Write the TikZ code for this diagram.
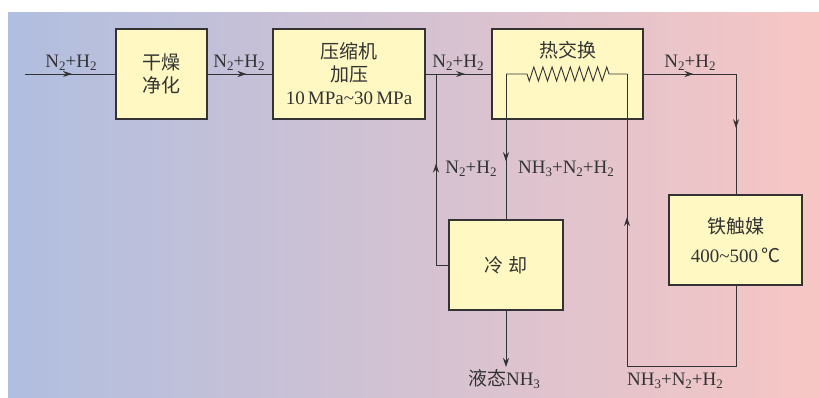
\documentclass[tikz,border=0pt]{standalone}
\usepackage{fontspec}
\setmainfont{Liberation Serif}
\newfontfamily\cjk{Noto Sans CJK SC}
\usetikzlibrary{arrows.meta,decorations.markings}
\definecolor{ink}{HTML}{333333}
\definecolor{boxfill}{HTML}{FFF8C2}
\definecolor{bgl}{HTML}{B0BEE0}
\definecolor{bgr}{HTML}{F7C6C4}
\newcommand\sbs[1]{\raisebox{-3.5pt}{\fontsize{13}{13}\selectfont #1}}
\tikzset{
  txt/.style={text=ink, font=\fontsize{19}{23}\selectfont, inner sep=0pt},
  lbl/.style={txt, anchor=base},
  procbox/.style={draw=ink, line width=1.1pt, fill=boxfill, inner sep=0pt,
    align=center, txt},
  flow/.style={draw=ink, line width=0.9pt},
  arrowat/.style={postaction={decorate}, decoration={markings,
    mark=at position #1 with {\arrow{Stealth[length=9pt,width=6pt]}}}},
  tipend/.style={-{Stealth[length=9pt,width=6pt]}}
}
\begin{document}
\begin{tikzpicture}[x=1pt,y=-1pt]
\useasboundingbox (0,0) rectangle (819,397);
\fill[white] (0,0) rectangle (819,397);
\shade[left color=bgl, right color=bgr] (8,12) rectangle (819,397);

% boxes
\node[procbox, minimum width=91pt, minimum height=90pt] (b1) at (161.5,74)
  {{\cjk 干燥}\\{\cjk 净化}};
\node[procbox, minimum width=152pt, minimum height=90pt] (b2) at (349,74)
  {{\cjk 压缩机}\\{\cjk 加压}\\10\,MPa\textasciitilde 30\,MPa};
\node[procbox, minimum width=151pt, minimum height=90pt] (b3) at (567.5,74) {};
\node[txt] (b3t) at (567.5,50) {\cjk 热交换};
\node[procbox, minimum width=114pt, minimum height=90pt] (cool) at (506,265)
  {{\cjk 冷\hspace{5pt}却}};
\node[procbox, minimum width=133pt, minimum height=90pt] (cat) at (735.5,240)
  {{\cjk 铁触媒}\\[6pt]400\textasciitilde 500\,{\cjk ℃}};

% coordinates
\coordinate (in) at (25,74);
\coordinate (j1) at (436,74);
\coordinate (c1) at (736,74);
\coordinate (r1) at (736,366);
\coordinate (r2) at (627,366);
\coordinate (r3) at (627,74);
\coordinate (z1) at (609,74);
\coordinate (r4) at (506,74);
\coordinate (liq) at (506,367);

% connectors
\draw[flow, arrowat=0.52] (in) -- (b1.west);
\draw[flow, arrowat=0.6] (b1.east) -- (b2.west);
\draw[flow, arrowat=0.6] (b2.east) -- (b3.west);
\draw[flow, arrowat=0.56] (cool.west) -| (j1);
\draw[flow, arrowat=0.54] (b3.east) -- (c1);
\draw[flow, arrowat=0.45] (c1) -- (c1 |- cat.north);
\draw[flow] (c1 |- cat.south) -- (r1) -- (r2);
\draw[flow, arrowat=0.51] (r2) -- (r3);
\draw[flow, line join=miter] (r3) -- (z1) -- ++(-2.278,-7)
  \foreach \k in {1,...,8}{ -- ++(-4.556,14) -- ++(-4.556,-14) }
  -- ++(-4.556,14) -- ++(-2.278,-7) -- (r4);
\draw[flow, arrowat=0.6] (r4) -- (cool.north);
\draw[flow, tipend] (cool.south) -- (liq);

% labels
\node[lbl] (l1) at (71,67) {N\sbs{2}+H\sbs{2}};
\node[lbl] (l2) at (239,67) {N\sbs{2}+H\sbs{2}};
\node[lbl] (l3) at (458,67) {N\sbs{2}+H\sbs{2}};
\node[lbl] (l4) at (690,67) {N\sbs{2}+H\sbs{2}};
\node[lbl] (l5) at (471,173) {N\sbs{2}+H\sbs{2}};
\node[lbl] (l6) at (566,173) {NH\sbs{3}+N\sbs{2}+H\sbs{2}};
\node[lbl] (l7) at (675,385) {NH\sbs{3}+N\sbs{2}+H\sbs{2}};
\node[lbl] (l8) at (504,385) {{\cjk 液态}NH\sbs{3}};
\end{tikzpicture}
\end{document}
